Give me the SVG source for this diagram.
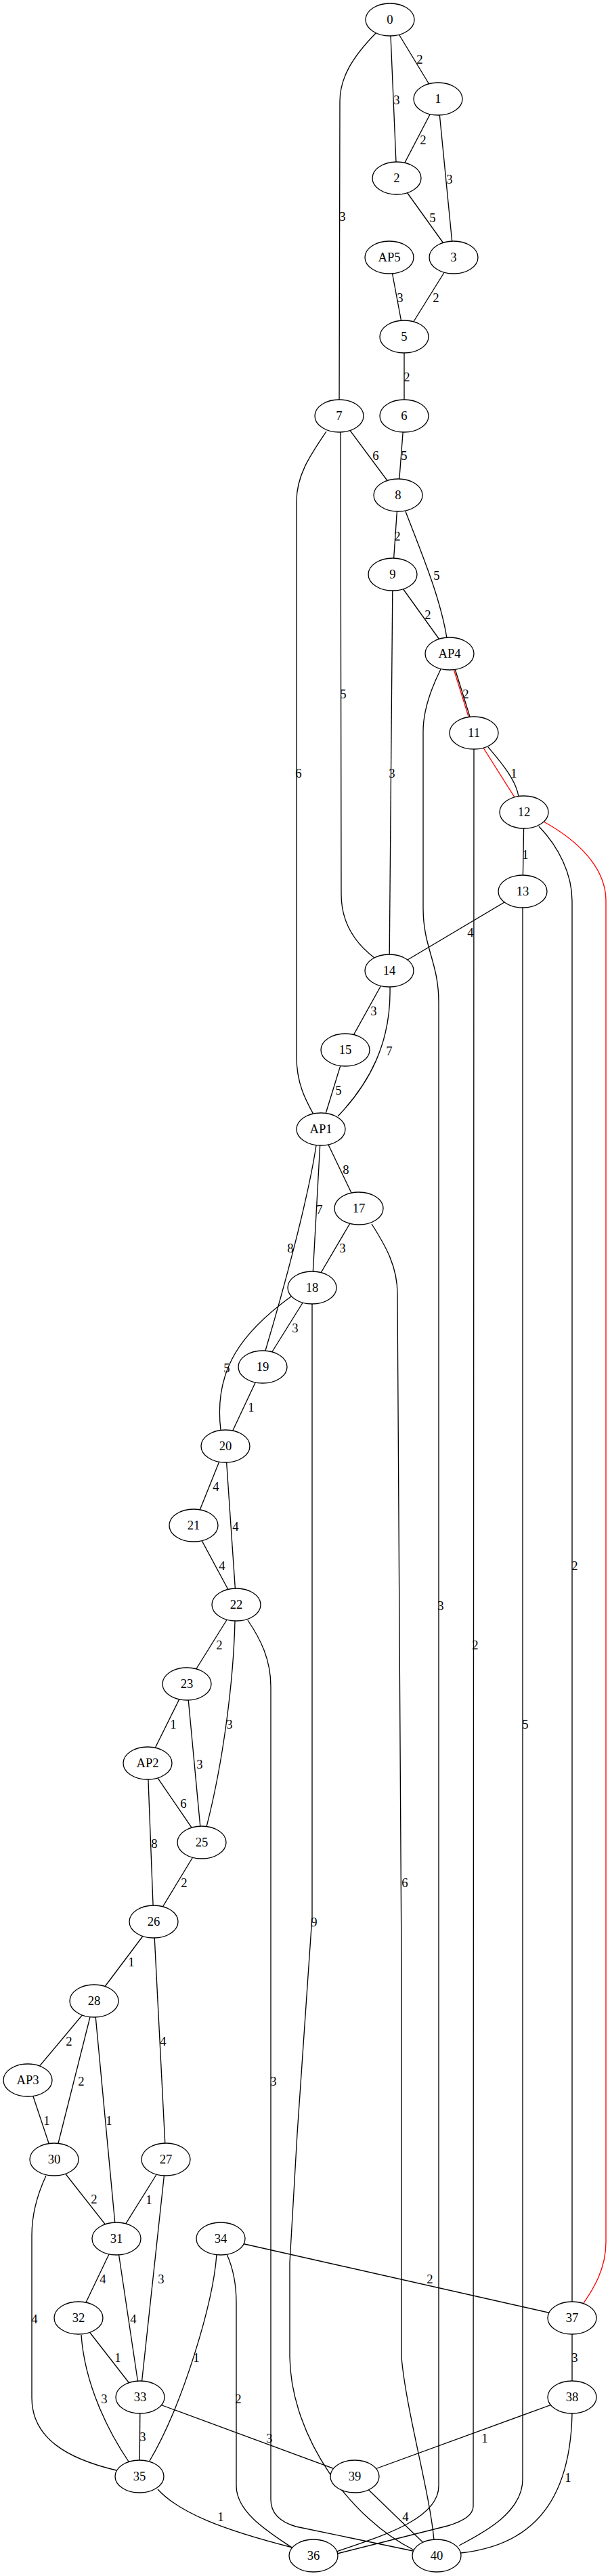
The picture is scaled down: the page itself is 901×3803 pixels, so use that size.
<svg xmlns="http://www.w3.org/2000/svg" width="901" height="3803" viewBox="0 0 901 3803">
<style>
.edges path{fill:none;stroke:#000;stroke-width:1.33}
.edges path.red{stroke:#ff0000}
.node ellipse{fill:#fff;stroke:#000;stroke-width:1.33}
text{font-family:"Liberation Serif","Times New Roman",serif;font-size:18.67px;text-anchor:middle;fill:#000}
</style>
<rect width="901" height="3803" fill="#fff"/>
<g id="connectors" class="edges">
<path d="M576,29 L647,146"/>
<path d="M576,29 L586,263"/>
<path d="M555,49 C520,85 502,115 502,150 L501,614"/>
<path d="M647,146 L586,263"/>
<path d="M647,146 L670,380"/>
<path d="M586,263 L670,380"/>
<path d="M575,380 L597,497"/>
<path d="M670,380 L597,497"/>
<path d="M597,497 L597,614"/>
<path d="M501,614 L588,731"/>
<path d="M597,614 L588,731"/>
<path d="M503,614 L504,1320 C504,1365 528,1395 553,1414"/>
<path d="M482,637 C460,670 438,700 438,740 L438,1560 C438,1600 452,1625 463,1645"/>
<path d="M588,731 L580,848"/>
<path d="M599,755 C620,810 650,880 660,942"/>
<path d="M580,848 L664,965"/>
<path d="M580,848 L575,1433"/>
<path d="M665,965 L701.5,1082"/>
<path d="M721,1103 C737,1122 762,1150 766,1176"/>
<path d="M774,1199 L772,1316"/>
<path d="M796,1220 C825,1250 845,1290 845,1330 L845,3422"/>
<path d="M772,1316 L575,1433"/>
<path d="M772,1316 L772,3660 C772,3710 712,3740 678,3758"/>
<path d="M651,988 C635,1020 625,1050 625,1080 L625,1340 C625,1400 648,1420 648,1480 L648,3670 C648,3720 560,3745 497,3767"/>
<path d="M700,1082 L699,3700 C699,3715 678,3724 661,3729 L498,3770"/>
<path d="M575,1433 L510,1550"/>
<path d="M576,1457 C578,1540 545,1600 499,1648"/>
<path d="M510,1550 L474,1667"/>
<path d="M474,1667 L530,1784"/>
<path d="M474,1667 L461,1901"/>
<path d="M467,1691 C455,1770 420,1900 392,1994"/>
<path d="M530,1784 L461,1901"/>
<path d="M549,1807 C570,1840 587,1870 587,1910 L593,2900 L593,3480 C600,3560 635,3680 641,3750"/>
<path d="M461,1901 L388,2018"/>
<path d="M430,1914 C360,1965 315,2020 326,2111"/>
<path d="M461,1901 L461,2830 L439,3150 L428,3340 L428,3480 C430,3600 520,3720 612,3765"/>
<path d="M388,2018 L333,2135"/>
<path d="M333,2135 L286,2252"/>
<path d="M333,2135 L349,2369"/>
<path d="M286,2252 L349,2369"/>
<path d="M349,2369 L276,2486"/>
<path d="M347,2393 C345,2480 330,2600 305,2697"/>
<path d="M366,2392 C385,2420 400,2450 400,2490 L400,3690 C400,3715 420,3725 437,3730 L610,3766"/>
<path d="M276,2486 L218,2603"/>
<path d="M276,2486 L298,2720"/>
<path d="M218,2603 L298,2720"/>
<path d="M218,2603 L227,2837"/>
<path d="M298,2720 L227,2837"/>
<path d="M227,2837 L139,2954"/>
<path d="M227,2837 L245,3188"/>
<path d="M139,2954 L41,3071"/>
<path d="M139,2954 L80,3188"/>
<path d="M139,2954 L172,3305"/>
<path d="M41,3071 L80,3188"/>
<path d="M80,3188 L172,3305"/>
<path d="M68,3212 C55,3240 47,3270 47,3300 L47,3540 C47,3600 100,3630 172,3647"/>
<path d="M245,3188 L172,3305"/>
<path d="M245,3188 L207,3539"/>
<path d="M172,3305 L116,3422"/>
<path d="M172,3305 L207,3539"/>
<path d="M326,3305 L845,3422"/>
<path d="M320,3328 C315,3400 270,3550 221,3633"/>
<path d="M335,3328 C345,3350 349,3375 349,3400 L349,3670 C349,3710 400,3740 431,3761"/>
<path d="M116,3422 L207,3539"/>
<path d="M120,3447 C125,3520 160,3590 190,3634"/>
<path d="M207,3539 L206,3656"/>
<path d="M207,3539 L524,3656"/>
<path d="M845,3422 L845,3539"/>
<path d="M845,3539 L524,3656"/>
<path d="M845,3563 C842,3720 760,3760 681,3769"/>
<path d="M233,3675 C265,3710 330,3735 432,3761"/>
<path d="M524,3656 L645,3773"/>
<path class="red" d="M663,965 L699.5,1082"/>
<path class="red" d="M700,1082 L774,1199"/>
<path class="red" d="M803,1213 C852,1240 895,1280 895,1330 L895,3310 C895,3350 876,3380 862,3400"/>
</g>
<g id="edge-labels">
<text x="620" y="94">2</text>
<text x="586" y="154">3</text>
<text x="506" y="326">3</text>
<text x="625" y="213">2</text>
<text x="664" y="271">3</text>
<text x="639" y="328">5</text>
<text x="591" y="446">3</text>
<text x="644" y="446">2</text>
<text x="601" y="563">2</text>
<text x="555" y="679">6</text>
<text x="597" y="679">5</text>
<text x="507" y="1031">5</text>
<text x="441" y="1148">6</text>
<text x="587" y="798">2</text>
<text x="645" y="856">5</text>
<text x="632" y="914">2</text>
<text x="579" y="1148">3</text>
<text x="688" y="1031">2</text>
<text x="759" y="1148">1</text>
<text x="776" y="1268">1</text>
<text x="849" y="2318">2</text>
<text x="695" y="1383">4</text>
<text x="776" y="2552">5</text>
<text x="651" y="2377">3</text>
<text x="702" y="2435">2</text>
<text x="552" y="1499">3</text>
<text x="575" y="1558">7</text>
<text x="500" y="1616">5</text>
<text x="511" y="1733">8</text>
<text x="472" y="1792">7</text>
<text x="429" y="1849">8</text>
<text x="506" y="1849">3</text>
<text x="598" y="2786">6</text>
<text x="436" y="1967">3</text>
<text x="335" y="2026">5</text>
<text x="464" y="2844">9</text>
<text x="371" y="2084">1</text>
<text x="319" y="2201">4</text>
<text x="348" y="2260">4</text>
<text x="328" y="2318">4</text>
<text x="324" y="2435">2</text>
<text x="339" y="2552">3</text>
<text x="404" y="3079">3</text>
<text x="256" y="2552">1</text>
<text x="295" y="2611">3</text>
<text x="271" y="2669">6</text>
<text x="228" y="2728">8</text>
<text x="272" y="2786">2</text>
<text x="194" y="2903">1</text>
<text x="241" y="3020">4</text>
<text x="102" y="3020">2</text>
<text x="120" y="3079">2</text>
<text x="161" y="3137">1</text>
<text x="69" y="3137">1</text>
<text x="139" y="3253">2</text>
<text x="51" y="3430">4</text>
<text x="220" y="3254">1</text>
<text x="238" y="3371">3</text>
<text x="152" y="3371">4</text>
<text x="197" y="3430">4</text>
<text x="635" y="3371">2</text>
<text x="290" y="3487">1</text>
<text x="352" y="3548">2</text>
<text x="174" y="3487">1</text>
<text x="154" y="3548">3</text>
<text x="211" y="3604">3</text>
<text x="398" y="3606">3</text>
<text x="849" y="3487">3</text>
<text x="716" y="3606">1</text>
<text x="839" y="3664">1</text>
<text x="326" y="3722">1</text>
<text x="599" y="3722">4</text>
</g>
<g id="node-0" class="node"><ellipse cx="576" cy="29" rx="36" ry="24"/><text x="576" y="35">0</text></g>
<g id="node-1" class="node"><ellipse cx="647" cy="146" rx="36" ry="24"/><text x="647" y="152">1</text></g>
<g id="node-2" class="node"><ellipse cx="586" cy="263" rx="36" ry="24"/><text x="586" y="269">2</text></g>
<g id="node-AP5" class="node"><ellipse cx="575" cy="380" rx="36" ry="24"/><text x="575" y="386">AP5</text></g>
<g id="node-3" class="node"><ellipse cx="670" cy="380" rx="36" ry="24"/><text x="670" y="386">3</text></g>
<g id="node-5" class="node"><ellipse cx="597" cy="497" rx="36" ry="24"/><text x="597" y="503">5</text></g>
<g id="node-7" class="node"><ellipse cx="501" cy="614" rx="36" ry="24"/><text x="501" y="620">7</text></g>
<g id="node-6" class="node"><ellipse cx="597" cy="614" rx="36" ry="24"/><text x="597" y="620">6</text></g>
<g id="node-8" class="node"><ellipse cx="588" cy="731" rx="36" ry="24"/><text x="588" y="737">8</text></g>
<g id="node-9" class="node"><ellipse cx="580" cy="848" rx="36" ry="24"/><text x="580" y="854">9</text></g>
<g id="node-AP4" class="node"><ellipse cx="664" cy="965" rx="36" ry="24"/><text x="664" y="971">AP4</text></g>
<g id="node-11" class="node"><ellipse cx="700" cy="1082" rx="36" ry="24"/><text x="700" y="1088">11</text></g>
<g id="node-12" class="node"><ellipse cx="774" cy="1199" rx="36" ry="24"/><text x="774" y="1205">12</text></g>
<g id="node-13" class="node"><ellipse cx="772" cy="1316" rx="36" ry="24"/><text x="772" y="1322">13</text></g>
<g id="node-14" class="node"><ellipse cx="575" cy="1433" rx="36" ry="24"/><text x="575" y="1439">14</text></g>
<g id="node-15" class="node"><ellipse cx="510" cy="1550" rx="36" ry="24"/><text x="510" y="1556">15</text></g>
<g id="node-AP1" class="node"><ellipse cx="474" cy="1667" rx="36" ry="24"/><text x="474" y="1673">AP1</text></g>
<g id="node-17" class="node"><ellipse cx="530" cy="1784" rx="36" ry="24"/><text x="530" y="1790">17</text></g>
<g id="node-18" class="node"><ellipse cx="461" cy="1901" rx="36" ry="24"/><text x="461" y="1907">18</text></g>
<g id="node-19" class="node"><ellipse cx="388" cy="2018" rx="36" ry="24"/><text x="388" y="2024">19</text></g>
<g id="node-20" class="node"><ellipse cx="333" cy="2135" rx="36" ry="24"/><text x="333" y="2141">20</text></g>
<g id="node-21" class="node"><ellipse cx="286" cy="2252" rx="36" ry="24"/><text x="286" y="2258">21</text></g>
<g id="node-22" class="node"><ellipse cx="349" cy="2369" rx="36" ry="24"/><text x="349" y="2375">22</text></g>
<g id="node-23" class="node"><ellipse cx="276" cy="2486" rx="36" ry="24"/><text x="276" y="2492">23</text></g>
<g id="node-AP2" class="node"><ellipse cx="218" cy="2603" rx="36" ry="24"/><text x="218" y="2609">AP2</text></g>
<g id="node-25" class="node"><ellipse cx="298" cy="2720" rx="36" ry="24"/><text x="298" y="2726">25</text></g>
<g id="node-26" class="node"><ellipse cx="227" cy="2837" rx="36" ry="24"/><text x="227" y="2843">26</text></g>
<g id="node-28" class="node"><ellipse cx="139" cy="2954" rx="36" ry="24"/><text x="139" y="2960">28</text></g>
<g id="node-AP3" class="node"><ellipse cx="41" cy="3071" rx="36" ry="24"/><text x="41" y="3077">AP3</text></g>
<g id="node-30" class="node"><ellipse cx="80" cy="3188" rx="36" ry="24"/><text x="80" y="3194">30</text></g>
<g id="node-27" class="node"><ellipse cx="245" cy="3188" rx="36" ry="24"/><text x="245" y="3194">27</text></g>
<g id="node-31" class="node"><ellipse cx="172" cy="3305" rx="36" ry="24"/><text x="172" y="3311">31</text></g>
<g id="node-34" class="node"><ellipse cx="326" cy="3305" rx="36" ry="24"/><text x="326" y="3311">34</text></g>
<g id="node-32" class="node"><ellipse cx="116" cy="3422" rx="36" ry="24"/><text x="116" y="3428">32</text></g>
<g id="node-37" class="node"><ellipse cx="845" cy="3422" rx="36" ry="24"/><text x="845" y="3428">37</text></g>
<g id="node-33" class="node"><ellipse cx="207" cy="3539" rx="36" ry="24"/><text x="207" y="3545">33</text></g>
<g id="node-38" class="node"><ellipse cx="845" cy="3539" rx="36" ry="24"/><text x="845" y="3545">38</text></g>
<g id="node-35" class="node"><ellipse cx="206" cy="3656" rx="36" ry="24"/><text x="206" y="3662">35</text></g>
<g id="node-39" class="node"><ellipse cx="524" cy="3656" rx="36" ry="24"/><text x="524" y="3662">39</text></g>
<g id="node-36" class="node"><ellipse cx="463" cy="3773" rx="36" ry="24"/><text x="463" y="3779">36</text></g>
<g id="node-40" class="node"><ellipse cx="645" cy="3773" rx="36" ry="24"/><text x="645" y="3779">40</text></g>
</svg>
